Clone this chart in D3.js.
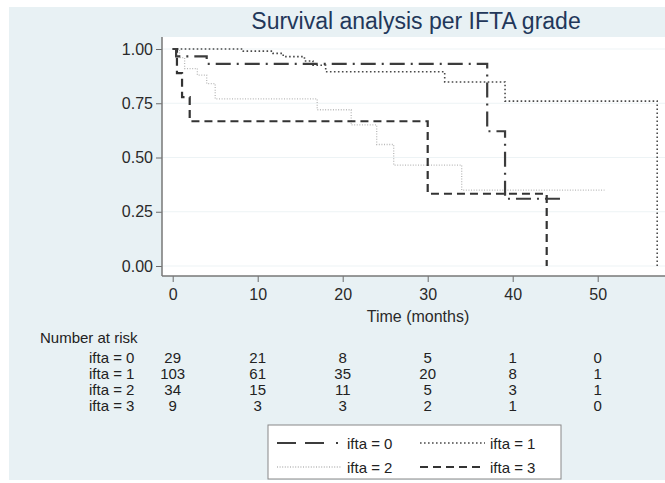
<!DOCTYPE html>
<html><head><meta charset="utf-8">
<script src="https://cdn.jsdelivr.net/npm/d3@7"></script>
<style>body{margin:0;background:#fff}svg{display:block}text{font-family:"Liberation Sans",Arial,Helvetica,sans-serif}</style>
</head><body><svg id="c" width="665" height="483"></svg>
<script>
const title = "Survival analysis per IFTA grade";
const xTicks = [0, 10, 20, 30, 40, 50];
const yTicks = [0, 0.25, 0.5, 0.75, 1];
const groups = ["ifta = 0", "ifta = 1", "ifta = 2", "ifta = 3"];
const atRisk0 = [29, 21, 8, 5, 1, 0];
const atRisk1 = [103, 61, 35, 20, 8, 1];
const atRisk2 = [34, 15, 11, 5, 3, 1];
const atRisk3 = [9, 3, 3, 2, 1, 0];
// Kaplan-Meier steps (time in months, survival)
const ifta0Time = [0, 0.4, 4.0, 37.0, 39.1, 46.2];
const ifta0Surv = [1, 0.966, 0.931, 0.621, 0.310, 0.310];
const ifta1Time = [0, 8.3, 11.8, 13.0, 15.5, 16.5, 18.0, 32.0, 39.1, 57.0];
const ifta1Surv = [1, 0.99, 0.98, 0.965, 0.945, 0.925, 0.895, 0.848, 0.76, 0];
const ifta2Time = [0, 0.8, 1.4, 2.9, 4.0, 5.0, 17.0, 21.0, 24.0, 26.0, 34.0, 50.8];
const ifta2Surv = [1, 0.96, 0.91, 0.88, 0.84, 0.77, 0.72, 0.65, 0.56, 0.465, 0.35, 0.35];
const ifta3Time = [0, 0.5, 1.1, 2.0, 30.0, 44.0];
const ifta3Surv = [1, 0.889, 0.778, 0.667, 0.333, 0];

const svg = d3.select("#c");
const W = 665, H = 483;
const m = {l: 162, t: 37, b: 276};
const x = d3.scaleLinear().domain([0, 57.8]).range([172.7, 664]);
const y = d3.scaleLinear().domain([0, 1]).range([266, 49]);
const FS = 16;

svg.append("rect").attr("x", 9).attr("y", 7).attr("width", W - 9).attr("height", H - 10).attr("fill", "#e8f1f4");
svg.append("rect").attr("x", m.l).attr("y", m.t).attr("width", W - m.l).attr("height", m.b - m.t).attr("fill", "#ffffff");

svg.append("text").attr("x", 416).attr("y", 29).attr("text-anchor", "middle")
  .attr("font-size", 23).attr("fill", "#22375a").text(title);

// grid
svg.append("g").selectAll("line").data(yTicks).join("line")
  .attr("x1", m.l).attr("x2", W).attr("y1", d => y(d)).attr("y2", d => y(d))
  .attr("stroke", "#edf3f5").attr("stroke-width", 1);

// axes
const yAxis = d3.axisLeft(y).tickValues(yTicks).tickFormat(d3.format(".2f")).tickSize(6).tickPadding(3);
const gy = svg.append("g").attr("transform", `translate(${m.l},0)`).call(yAxis);
const xAxis = d3.axisBottom(x).tickValues(xTicks).tickFormat(d3.format("d")).tickSize(6).tickPadding(7);
const gx = svg.append("g").attr("transform", `translate(0,${m.b})`).call(xAxis);
[gx, gy].forEach(g => {
  g.select(".domain").remove();
  g.selectAll(".tick line").attr("stroke", "#6b6b6b");
  g.selectAll("text").attr("font-size", FS).attr("fill", "#2a2a2a").attr("font-family", "Liberation Sans, Arial, sans-serif");
});
svg.append("line").attr("x1", m.l).attr("x2", m.l).attr("y1", m.t).attr("y2", m.b).attr("stroke", "#777").attr("stroke-width", 1.5);
svg.append("line").attr("x1", m.l).attr("x2", W).attr("y1", m.b).attr("y2", m.b).attr("stroke", "#777").attr("stroke-width", 1.5);

svg.append("text").attr("x", 418).attr("y", 322).attr("text-anchor", "middle").attr("font-size", FS).attr("fill", "#2a2a2a").text("Time (months)");

// curves
const styles = [
  {t: ifta0Time, s: ifta0Surv, color: "#3c3c3c", w: 2.2, dash: "15,6,2,6"},
  {t: ifta1Time, s: ifta1Surv, color: "#4a4a4a", w: 1.6, dash: "1.6,2.4"},
  {t: ifta2Time, s: ifta2Surv, color: "#b9b9b9", w: 1.3, dash: "1,1.6"},
  {t: ifta3Time, s: ifta3Surv, color: "#333333", w: 2.2, dash: "8,5"}
];
const line = d3.line().x(d => x(d[0])).y(d => y(d[1])).curve(d3.curveStepAfter);
[2, 1, 3, 0].forEach(i => {
  const st = styles[i];
  svg.append("path").datum(st.t.map((t, j) => [t, st.s[j]]))
    .attr("d", line).attr("fill", "none").attr("stroke", st.color)
    .attr("stroke-width", st.w).attr("stroke-dasharray", st.dash);
});

// number at risk
const risk = [atRisk0, atRisk1, atRisk2, atRisk3];
const TS = 15;
svg.append("text").attr("x", 40).attr("y", 343).attr("font-size", TS).attr("fill", "#222").text("Number at risk");
risk.forEach((row, i) => {
  const yy = 363 + i * 16;
  svg.append("text").attr("x", 89).attr("y", yy).attr("font-size", TS).attr("fill", "#222").text(groups[i]);
  svg.append("g").selectAll("text").data(row).join("text")
    .attr("x", (d, j) => x(xTicks[j])).attr("y", yy).attr("text-anchor", "middle")
    .attr("font-size", TS).attr("fill", "#222").text(d => d);
});

// legend
const lg = svg.append("g");
lg.append("rect").attr("x", 268).attr("y", 425).attr("width", 293).attr("height", 54)
  .attr("fill", "#fff").attr("stroke", "#888").attr("stroke-width", 1);
const pos = [[277, 443], [420, 443], [277, 467], [420, 467]];
const LS = 15;
[0, 1, 2, 3].forEach(i => {
  const st = styles[i];
  const [lx, ly] = pos[i];
  lg.append("line").attr("x1", lx).attr("x2", lx + 65).attr("y1", ly).attr("y2", ly)
    .attr("stroke", st.color).attr("stroke-width", st.w).attr("stroke-dasharray", i === 0 ? "19,9,19,12,2,20" : st.dash);
  lg.append("text").attr("x", lx + 70).attr("y", ly + 5.5).attr("font-size", LS).attr("fill", "#222").text(groups[i]);
});
</script></body></html>
